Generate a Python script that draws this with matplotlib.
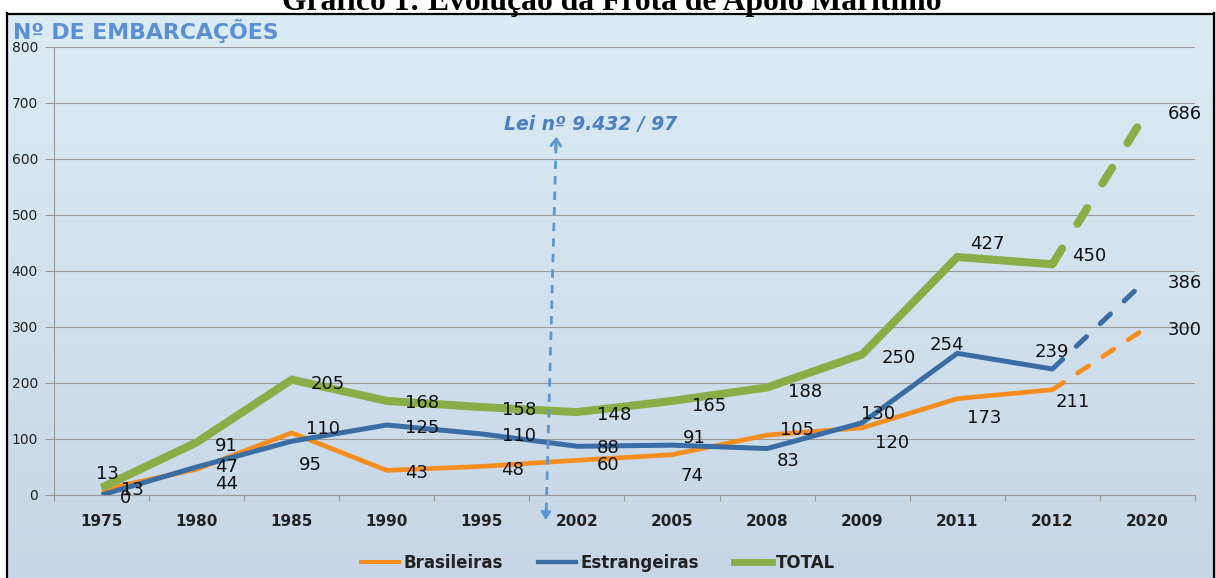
import numpy as np
import matplotlib
matplotlib.use("Agg")
import matplotlib.pyplot as plt
from matplotlib.lines import Line2D

# ---------------- data ----------------
categories = ["1975", "1980", "1985", "1990", "1995", "2002", "2005",
              "2008", "2009", "2011", "2012", "2020"]
brasileiras = [9, 46, 111, 44, 51, 62, 72, 107, 120, 172, 188, 300]
estrangeiras = [0, 50, 96, 125, 109, 87, 89, 83, 129, 253, 225, 386]
total = [13, 94, 206, 168, 157, 148, 168, 192, 251, 425, 412, 686]

labels_bras = ["13", "44", "110", "43", "48", "60", "74", "105", "120", "173", "211", "300"]
labels_estr = ["0", "47", "95", "125", "110", "88", "91", "83", "130", "254", "239", "386"]
labels_total = ["13", "91", "205", "168", "158", "148", "165", "188", "250", "427", "450", "686"]

series_names = ["Brasileiras", "Estrangeiras", "TOTAL"]
yticks = [0, 100, 200, 300, 400, 500, 600, 700, 800]

# ---------------- styling (positions in pixels) ----------------
off_bras = [(31, 0), (30, 15), (31, -4), (30, 3), (31, 4), (31, 5), (20, 21),
            (30, -5), (30, 15), (27, 19), (20, 12), (37, 3)]
off_estr = [(24, 3), (30, 0), (19, 24), (35, 3), (37, 2), (31, 2), (22, -7),
            (21, 12), (16, -9), (-10, -8), (0, -17), (37, 4)]
off_total = [(6, -14), (30, 4), (36, 4), (35, 2), (37, 3), (37, 3), (37, 5),
             (38, 5), (37, 4), (30, -13), (37, -8), (37, 3)]

C_OR = "#F68D1F"
C_BL = "#3A6DA3"
C_GR = "#8AAE47"

W, H = 1216, 578
fig = plt.figure(figsize=(W / 100, H / 100), dpi=100)

# background + frame
bg = fig.add_axes([0, 0, 1, 1], zorder=0)
bg.set_xlim(0, W)
bg.set_ylim(H, 0)
bg.axis("off")
top_c = np.array([0xDB, 0xEC, 0xF4]) / 255
bot_c = np.array([0xC7, 0xD6, 0xE6]) / 255
t = np.linspace(0, 1, 256)[:, None]
grad = top_c[None, None, :] * (1 - t[:, :, None]) + bot_c[None, None, :] * t[:, :, None]
grad = np.repeat(grad, 2, axis=1)
bg.imshow(grad, extent=[8, W, H, 14], aspect="auto", interpolation="bilinear")
bg.plot([7, 7], [13, H], color="black", lw=1.6)
bg.plot([7, 1214], [13.5, 13.5], color="black", lw=1.6)
bg.plot([1214, 1214], [13, H], color="black", lw=1.6)

fig.text(612 / W, 1 - 10 / H, "Gráfico 1: Evolução da Frota de Apoio Marítimo",
         ha="center", va="baseline", fontsize=22.8, fontweight="bold",
         family="Liberation Serif", color="black")
fig.text(13 / W, 1 - 39 / H, "Nº DE EMBARCAÇÕES", ha="left", va="baseline",
         fontsize=15.8, fontweight="bold", color="#5A8FD3", family="DejaVu Sans")

# main axes
ax = fig.add_axes([54 / W, (H - 495) / H, (1195 - 54) / W, (495 - 47) / H], zorder=1)
ax.patch.set_alpha(0)
x = np.arange(len(categories))
ax.set_xlim(-0.5, len(categories) - 0.5)
ax.set_ylim(0, 800)
ax.set_yticks(yticks)
ax.set_yticklabels([str(v) for v in yticks], fontsize=10, color="#222222")
ax.yaxis.grid(True, color="#9A9A9A", lw=0.8)
ax.set_axisbelow(True)
ax.tick_params(axis="y", length=6.5, width=0.8, color="#9A9A9A", pad=5)
ax.set_xticks(x)
ax.set_xticklabels(categories, fontsize=11, fontweight="bold", color="#222222")
ax.set_xticks(np.arange(-0.5, len(categories)), minor=True)
ax.tick_params(axis="x", which="major", length=0, pad=14)
ax.tick_params(axis="x", which="minor", length=4.5, width=0.8, color="#9A9A9A")
for s in ["top", "right"]:
    ax.spines[s].set_visible(False)
for s in ["left", "bottom"]:
    ax.spines[s].set_color("#9A9A9A")
    ax.spines[s].set_linewidth(0.8)

specs = [(brasileiras, C_OR, 3.4, (2.8, 3.6)),
         (estrangeiras, C_BL, 3.6, (2.8, 3.8)),
         (total, C_GR, 5.8, (2.3, 3.6))]
handles = []
for (vals, col, lw, dash), name in zip(specs, series_names):
    ax.plot(x[:-1], vals[:-1], color=col, lw=lw, solid_joinstyle="miter",
            solid_capstyle="butt", zorder=3)
    ax.plot(x[-2:], vals[-2:], color=col, lw=lw, linestyle=(0, dash),
            dash_capstyle="round", zorder=3)
    handles.append(Line2D([0], [0], color=col, lw=lw * 0.85))

for vals, labs, offs in [(brasileiras, labels_bras, off_bras),
                         (estrangeiras, labels_estr, off_estr),
                         (total, labels_total, off_total)]:
    for xi, v, lab, (dx, dy) in zip(x, vals, labs, offs):
        ax.annotate(lab, (xi, v), xytext=(dx, -dy), textcoords="offset pixels",
                    ha="center", va="center", fontsize=13, color="#111111",
                    zorder=5, annotation_clip=False)

# law annotation (dashed double arrow)
AC = "#5B97D2"
ax.plot([4.78, 4.675], [625, -38], color=AC, lw=2, linestyle=(0, (3, 2.6)),
        clip_on=False, zorder=4)
ax.annotate("", xy=(4.785, 645), xytext=(4.775, 612),
            arrowprops=dict(arrowstyle="->,head_length=0.5,head_width=0.35",
                            color=AC, lw=2), annotation_clip=False)
ax.annotate("", xy=(4.67, -50), xytext=(4.675, -25),
            arrowprops=dict(arrowstyle="-|>,head_length=0.5,head_width=0.3",
                            color=AC, lw=1.5), annotation_clip=False)
fig.text(591 / W, 1 - 125 / H, "Lei nº 9.432 / 97", ha="center", va="center",
         fontsize=13.5, fontweight="bold", fontstyle="italic", color="#4C7FC0",
         family="DejaVu Sans")

leg = fig.legend(handles, series_names, loc="center", bbox_to_anchor=(598 / W, 1 - 563 / H),
                 ncol=3, frameon=False, handlelength=2.3, handletextpad=0.25,
                 columnspacing=2.1, prop=dict(size=12, weight="bold"))
for txt in leg.get_texts():
    txt.set_color("#222222")

fig.savefig("out.png", dpi=100)
